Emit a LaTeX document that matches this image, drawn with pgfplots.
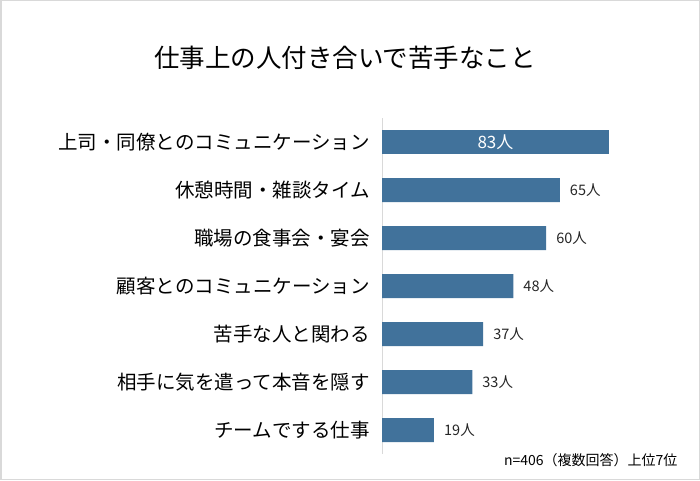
\documentclass[border=0pt]{standalone}
\usepackage{pgfplots}
\pgfplotsset{compat=1.18}
\usepackage{fontspec}
\setmainfont{Noto Sans CJK JP}
\definecolor{barblue}{HTML}{41729B}
\definecolor{framegray}{HTML}{D9D9D9}

\begin{document}
\begin{tikzpicture}[x=1pt,y=1pt]
% frame and title (1pt = 1px)
\draw[framegray, line width=1.5pt] (0.75,0.75) rectangle (699.25,479.25);
\node[font=\fontsize{25.5}{30}\selectfont] at (345,422) {仕事上の人付き合いで苦手なこと};

\begin{axis}[
    at={(382pt,26pt)}, anchor=south west,
    scale only axis, width=300pt, height=336pt,
    xmin=0, xmax=109.7,
    ymin=0.5, ymax=7.5, y dir=reverse,
    xbar, bar width=24pt, bar shift=0pt,
    hide x axis,
    axis y line*=left,
    y axis line style={draw=framegray, line width=1pt, -},
    ytick={1,...,7},
    yticklabels={上司・同僚とのコミュニケーション, 休憩時間・雑談タイム, 職場の食事会・宴会, 顧客とのコミュニケーション, 苦手な人と関わる, 相手に気を遣って本音を隠す, チームでする仕事},
    major tick length=0pt,
    ytick style={draw=none},
    yticklabel style={font=\fontsize{19.5}{22}\selectfont, inner sep=0pt, xshift=-12pt},
    /pgf/number format/assume math mode=true,
    clip=false,
]
    \addplot[
        draw=none, fill=barblue,
        nodes near coords={\pgfmathprintnumber{\pgfplotspointmeta}人},
        every node near coord/.append style={font=\fontsize{17}{20}\selectfont, text=white, anchor=center, inner sep=0pt, xshift=-113.5pt},
    ] coordinates {(83,1)};
    \addplot[
        draw=none, fill=barblue,
        nodes near coords={\pgfmathprintnumber{\pgfplotspointmeta}人},
        every node near coord/.append style={font=\fontsize{14.5}{17}\selectfont, text=black!85, anchor=west, inner sep=0pt, xshift=10pt},
    ] coordinates {
        (65,2)
        (60,3)
        (48,4)
        (37,5)
        (33,6)
        (19,7)
    };
\end{axis}

\node[anchor=east, font=\fontsize{14}{17}\selectfont] at (681,20) {n=406（複数回答）上位7位};
\end{tikzpicture}
\end{document}
